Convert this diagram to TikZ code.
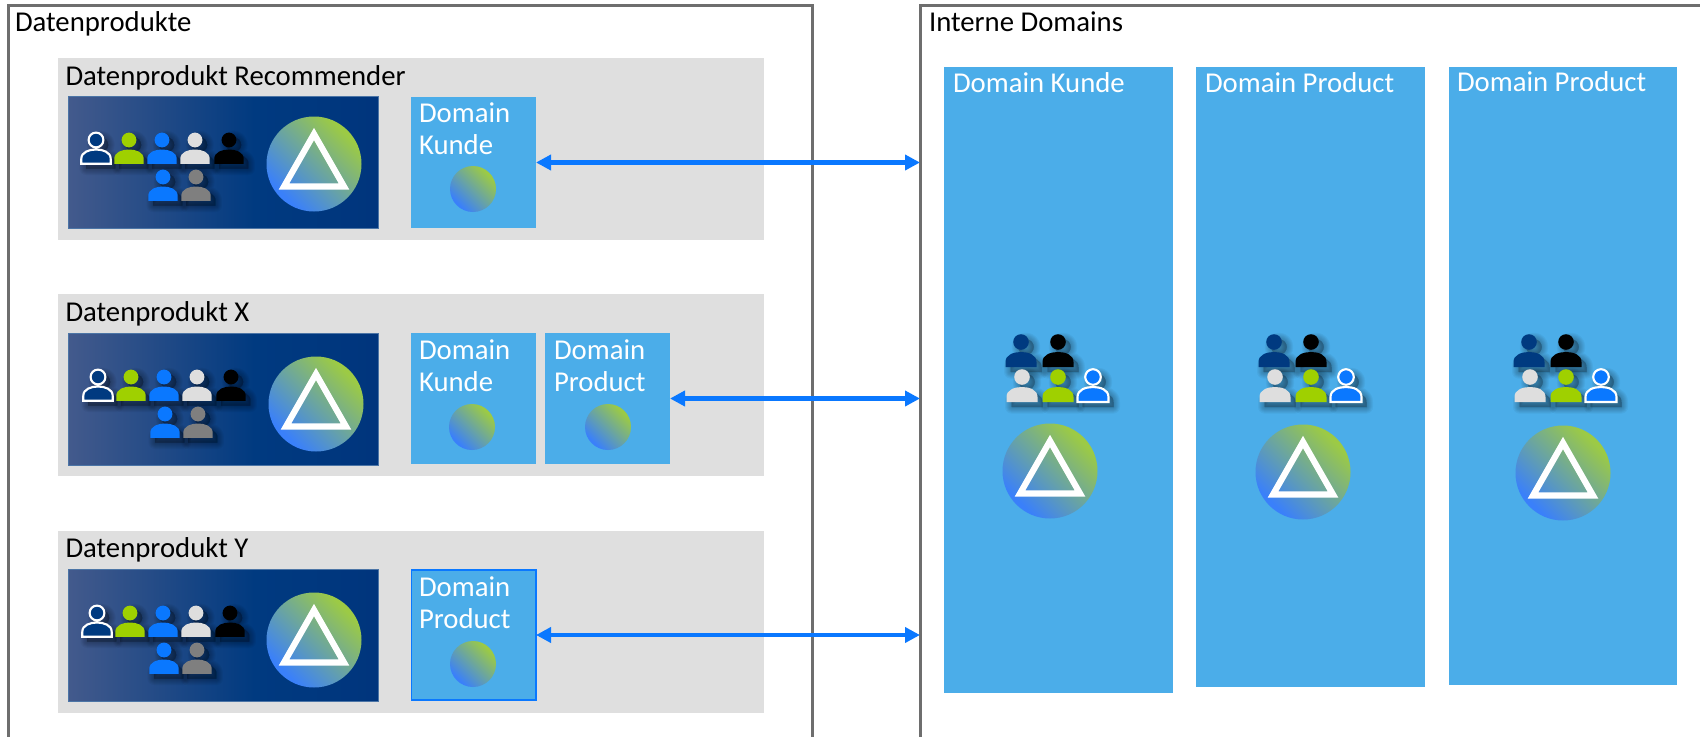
\documentclass[tikz,border=0pt]{standalone}
\usepackage{fontspec}
\setmainfont{Carlito}
\usetikzlibrary{arrows.meta}
\definecolor{framegray}{HTML}{6E6E6E}
\definecolor{panelgray}{HTML}{DFDFDF}
\definecolor{dombg}{HTML}{4BADE9}
\definecolor{arrowblue}{HTML}{0A78FF}
\definecolor{navy}{HTML}{003A80}
\definecolor{navyl}{HTML}{435A8C}
\definecolor{navyd}{HTML}{00357D}
\definecolor{gblue}{HTML}{3A80FA}
\definecolor{ggreen}{HTML}{9CCA45}
\definecolor{plime}{HTML}{9FD000}
\definecolor{plight}{HTML}{DEDEDE}
\definecolor{pgrey}{HTML}{7F7F7F}
\pgfdeclarehorizontalshading{panelshade}{100bp}{color(0bp)=(navyl);color(25bp)=(navyl);color(55bp)=(navy);color(75bp)=(navyd);color(100bp)=(navyd)}
\pgfdeclarehorizontalshading{orbshade}{100bp}{color(0bp)=(gblue);color(27bp)=(gblue);color(73bp)=(ggreen);color(100bp)=(ggreen)}
\tikzset{
  frame/.style={draw=framegray,line width=2.25pt,fill=white,inner sep=0pt,outer sep=0pt},
  product/.style={fill=panelgray,inner sep=0pt,outer sep=0pt},
  team/.style={draw=navy!70!white,line width=0.5pt,shading=panelshade,inner sep=0pt,outer sep=0pt},
  dom/.style={fill=dombg,inner sep=0pt,outer sep=0pt},
  domline/.style={dom,draw=arrowblue,line width=0.9pt},
  dark/.style={font=\fontsize{21.55pt}{24pt}\selectfont,text=black,anchor=base west,inner sep=0pt,outer sep=0pt},
  light/.style={font=\fontsize{21.55pt}{24pt}\selectfont,text=white,anchor=base west,inner sep=0pt,outer sep=0pt,align=left},
  link/.style={arrowblue,line width=3.4pt,{Triangle[length=11.25pt,width=11.25pt]}-{Triangle[length=11.25pt,width=11.25pt]},shorten >=0pt,shorten <=0pt},
  orb/.style={shading=orbshade,shading angle=45},
  tri/.style={draw=white,line width=4.6pt,miter limit=10,line join=miter},
}
\newcommand{\boxnode}[7]{% style,name,x0,y0,x1,y1,text
  \node[#1,minimum width=#5*0.75pt-#3*0.75pt,minimum height=#6*0.75pt-#4*0.75pt,anchor=north west] (#2) at (#3,#4) {#7};}
\newcommand{\bodypath}{(-15.5,25) -- (-15.5,20) .. controls (-15.5,12.5) and (-7,10) .. (0,10) .. controls (7,10) and (15.5,12.5) .. (15.5,20) -- (15.5,25) -- cycle (0,0) circle[radius=7.8]}
\newcommand{\shadowlayers}{%
  \foreach \w in {13,11,9,7,5,3,1}{
    \begin{scope}[shift={(5,5)}]
      \draw[black,opacity=.04,fill=black,line width=\w*0.75pt,line join=round] \bodypath;
    \end{scope}}}
\newcommand{\person}[5]{% x,y,scale,fill,stroke
  \begin{scope}[shift={(#1,#2)},scale=#3]
    \shadowlayers
    \draw[fill=#4,draw=#5,line width=1.6pt] \bodypath;
  \end{scope}}
\newcommand{\solidperson}[4]{%
  \begin{scope}[shift={(#1,#2)},scale=#3]
    \shadowlayers
    \fill[#4] \bodypath;
  \end{scope}}
\newcommand{\orbtri}[2]{% cx cy
  \shade[orb] (#1,#2) circle[radius=47.5];
  \draw[tri] (#1,#2) ++(0,-30) -- ++(30,52.5) -- ++(-60,0) -- cycle;}
\newcommand{\teamicons}[2]{% dx dy
  \begin{scope}[shift={(#1,#2)}]
    \person{96}{140}{.95}{navy}{white}
    \solidperson{129}{140}{.95}{plime}
    \solidperson{162}{140}{.95}{arrowblue}
    \solidperson{195}{140}{.95}{plight}
    \solidperson{229}{140}{.95}{black}
    \solidperson{163}{177}{.95}{arrowblue}
    \solidperson{196}{177}{.95}{pgrey}
  \end{scope}}
\newcommand{\domainicons}[3]{% dx persons, dx orb, orb y
  \begin{scope}[shift={(#1,0)}]
    \solidperson{1021}{342}{1}{navy}
    \solidperson{1058}{342}{1}{black}
    \solidperson{1022}{377}{1}{plight}
    \solidperson{1058}{377}{1}{plime}
    \person{1093}{377}{1}{arrowblue}{white}
  \end{scope}
  \orbtri{#2}{#3}}
\begin{document}
\begin{tikzpicture}[x=0.75pt,y=-0.75pt]
\clip (0,0) rectangle (1700,736);
\fill[white] (0,0) rectangle (1700,736);
% outer frames
\boxnode{frame}{fprod}{8}{5.5}{812}{760}{}
\boxnode{frame}{fint}{920}{5.5}{1760}{760}{}
\node[dark] (tprod) at (15,31.5) {Datenprodukte};
\node[dark] (tint) at (929,31.5) {Interne Domains};
% product panels
\boxnode{product}{p1}{58}{58}{764}{240}{}
\boxnode{product}{p2}{58}{294}{764}{476}{}
\boxnode{product}{p3}{58}{531}{764}{713}{}
\node[dark] (tp1) at (65.5,85) {Datenprodukt Recommender};
\node[dark] (tp2) at (65.5,321) {Datenprodukt X};
\node[dark] (tp3) at (65.5,557) {Datenprodukt Y};
% team panels
\boxnode{team}{t1}{68.5}{96}{378}{228}{}
\boxnode{team}{t2}{68.5}{333}{378}{465}{}
\boxnode{team}{t3}{68.5}{569}{378}{701}{}
\teamicons{0}{0}
\teamicons{2}{237}
\teamicons{1}{473}
\orbtri{314}{164}
\orbtri{316}{404}
\orbtri{314}{640}
% domain boxes in products
\boxnode{dom}{d1}{411}{97}{536}{228}{}
\boxnode{dom}{d2}{411}{333}{536}{464}{}
\boxnode{dom}{d3}{545}{333}{670}{464}{}
\boxnode{domline}{d4}{411.5}{570}{536}{700}{}
\node[light] (td1) at (419,154) {Domain\\Kunde};
\node[light] (td2) at (419,391) {Domain\\Kunde};
\node[light] (td3) at (554,391) {Domain\\Product};
\node[light] (td4) at (419,628) {Domain\\Product};
\shade[orb] (473,189) circle[radius=23];
\shade[orb] (472,427) circle[radius=23];
\shade[orb] (608,427) circle[radius=23];
\shade[orb] (473,664) circle[radius=23];
% internal domains
\boxnode{dom}{i1}{944}{67}{1173}{693}{}
\boxnode{dom}{i2}{1196}{67}{1425}{687}{}
\boxnode{dom}{i3}{1449}{67}{1677}{685}{}
\node[light] (ti1) at (953,92) {Domain Kunde};
\node[light] (ti2) at (1205,92) {Domain Product};
\node[light] (ti3) at (1457,91) {Domain Product};
\domainicons{0}{1050}{471}
\domainicons{253}{1303}{472}
\domainicons{508}{1563}{473}
% connectors
\draw[link] (d1.east) -- (d1.east -| fint.west);
\draw[link] (d3.east) -- (d3.east -| fint.west);
\draw[link] (d4.east) -- (d4.east -| fint.west);
\end{tikzpicture}
\end{document}
